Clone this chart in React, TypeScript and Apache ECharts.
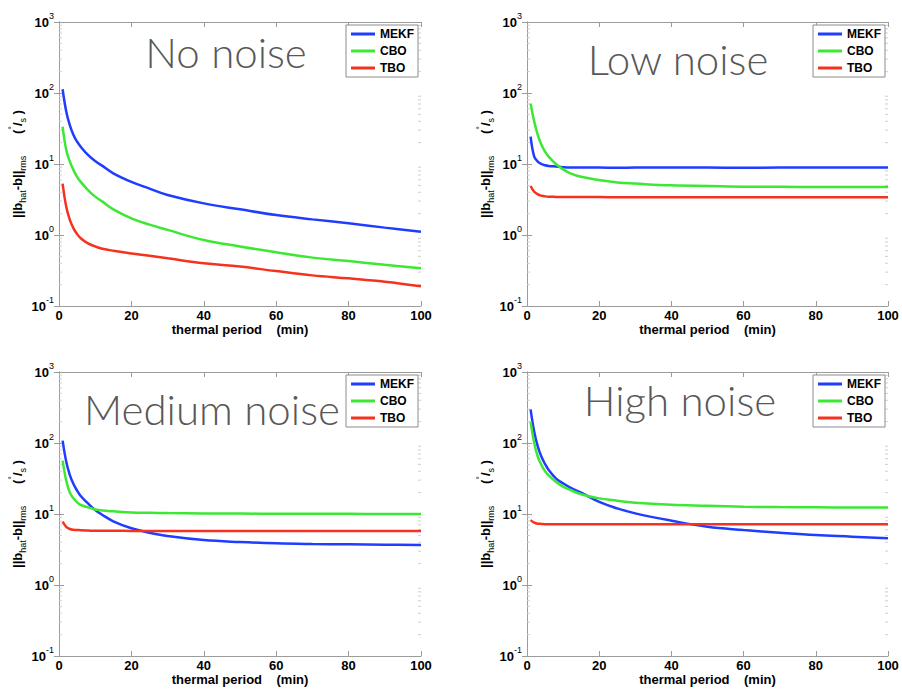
import React, { useEffect, useRef } from 'react';
import * as echarts from 'echarts';

// Thermal period (min) at which each estimator error is sampled
const PERIODS = [1, 2, 3, 4, 5, 6, 8, 10, 12, 15, 20, 25, 30, 40, 50, 60, 70, 80, 90, 100];

// RMS bias estimation error (deg/s) — no noise
const NO_NOISE_MEKF = [113, 55, 35, 25.7, 20.6, 17.5, 13.4, 11, 9.4, 7.4, 5.6, 4.5, 3.66, 2.79, 2.3, 1.91, 1.66, 1.46, 1.27, 1.11];
const NO_NOISE_CBO = [33.6, 15.7, 10.8, 8.2, 6.6, 5.6, 4.3, 3.47, 2.95, 2.3, 1.72, 1.4, 1.18, 0.85, 0.69, 0.57, 0.48, 0.43, 0.38, 0.34];
const NO_NOISE_TBO = [5.3, 2.5, 1.63, 1.24, 1.03, 0.9, 0.76, 0.69, 0.64, 0.6, 0.55, 0.51, 0.47, 0.4, 0.36, 0.31, 0.27, 0.245, 0.22, 0.19];

// Low noise
const LOW_NOISE_MEKF = [24.3, 12.7, 10.8, 10, 9.6, 9.4, 9.2, 9.0, 8.95, 8.9, 8.9, 8.88, 8.9, 8.92, 8.9, 8.88, 8.9, 8.9, 8.9, 8.9];
const LOW_NOISE_CBO = [71, 39.5, 25.6, 18.6, 14.9, 12.7, 10, 8.4, 7.4, 6.6, 5.95, 5.5, 5.3, 5.0, 4.9, 4.8, 4.78, 4.74, 4.74, 4.74];
const LOW_NOISE_TBO = [4.9, 4.07, 3.74, 3.58, 3.5, 3.46, 3.44, 3.43, 3.43, 3.42, 3.42, 3.41, 3.41, 3.4, 3.41, 3.4, 3.4, 3.39, 3.39, 3.39];

// Medium noise
const MEDIUM_NOISE_MEKF = [108, 54.6, 35.4, 26.4, 21.3, 17.9, 14.1, 11.4, 9.7, 7.9, 6.3, 5.46, 4.9, 4.3, 4.03, 3.86, 3.78, 3.74, 3.7, 3.66];
const MEDIUM_NOISE_CBO = [56.5, 29.5, 20, 16.6, 14.6, 13.4, 12.4, 11.6, 11.2, 10.9, 10.5, 10.4, 10.3, 10.2, 10.15, 10.1, 10.1, 10.05, 10.0, 10.0];
const MEDIUM_NOISE_TBO = [7.8, 6.6, 6.15, 6.0, 5.95, 5.9, 5.85, 5.8, 5.8, 5.8, 5.78, 5.78, 5.77, 5.77, 5.77, 5.76, 5.76, 5.76, 5.76, 5.76];

// High noise
const HIGH_NOISE_MEKF = [298, 144, 89, 64, 50.6, 41.7, 31.8, 27, 23.5, 20, 14.8, 12.0, 10.2, 8.05, 6.6, 5.95, 5.46, 5.06, 4.8, 4.54];
const HIGH_NOISE_CBO = [200, 99, 64, 49, 40, 35, 28.5, 24.3, 21.8, 19.0, 16.6, 15.4, 14.4, 13.5, 13.1, 12.7, 12.5, 12.4, 12.3, 12.3];
const HIGH_NOISE_TBO = [8.2, 7.55, 7.3, 7.25, 7.2, 7.2, 7.2, 7.2, 7.2, 7.2, 7.2, 7.2, 7.18, 7.18, 7.17, 7.17, 7.16, 7.16, 7.15, 7.15];

const METHODS = ['MEKF', 'CBO', 'TBO'];
const METHOD_COLORS = ['#1f3dff', '#3de834', '#f5321f'];
const PANEL_TITLES = ['No noise', 'Low noise', 'Medium noise', 'High noise'];
const PANEL_SERIES = [
  [NO_NOISE_MEKF, NO_NOISE_CBO, NO_NOISE_TBO],
  [LOW_NOISE_MEKF, LOW_NOISE_CBO, LOW_NOISE_TBO],
  [MEDIUM_NOISE_MEKF, MEDIUM_NOISE_CBO, MEDIUM_NOISE_TBO],
  [HIGH_NOISE_MEKF, HIGH_NOISE_CBO, HIGH_NOISE_TBO],
];

// Axis ranges
const X_MIN = 0;
const X_MAX = 100;
const X_STEP = 20;
const Y_MIN = 0.1;
const Y_MAX = 1000;
// Minor log ticks: multipliers within each decade
const MINOR_MULTIPLIERS = [2, 3, 4, 5, 6, 7, 8, 9];
const MINOR_DECADES = [0.1, 1, 10, 100];

// Layout of the four panels
const GRIDS = [
  { left: 59, top: 22, width: 362, height: 284 },
  { left: 527, top: 22, width: 361, height: 284 },
  { left: 59, top: 372, width: 362, height: 284 },
  { left: 527, top: 372, width: 361, height: 284 },
];
const TITLE_POS = [
  { x: 226, y: 52 },
  { x: 678, y: 59 },
  { x: 212, y: 409 },
  { x: 680, y: 400 },
];

const FONT = '"Liberation Sans", Arial, Helvetica, sans-serif';
const AXIS_COLOR = '#9c9c9c';

function buildOption() {
  const grid: any[] = [];
  const xAxis: any[] = [];
  const yAxis: any[] = [];
  const series: any[] = [];
  const legend: any[] = [];
  const graphic: any[] = [];

  const minorTicks: number[][] = [];
  MINOR_DECADES.forEach((d) => MINOR_MULTIPLIERS.forEach((m) => minorTicks.push([X_MIN, d * m])));

  GRIDS.forEach((g, i) => {
    grid.push({ ...g, containLabel: false });

    const baseAxisLine = { show: true, lineStyle: { color: AXIS_COLOR, width: 1 } };
    const baseTick = { show: true, inside: true, length: 5, lineStyle: { color: AXIS_COLOR, width: 1 } };

    xAxis.push({
      type: 'value',
      gridIndex: i,
      position: 'bottom',
      min: X_MIN,
      max: X_MAX,
      interval: X_STEP,
      axisLine: baseAxisLine,
      axisTick: baseTick,
      splitLine: { show: false },
      axisLabel: { fontFamily: FONT, fontWeight: 'bold', fontSize: 13, color: '#000', margin: 3 },
      name: 'thermal period    (min)',
      nameLocation: 'middle',
      nameGap: 17,
      nameTextStyle: { fontFamily: FONT, fontWeight: 'bold', fontSize: 13, color: '#000' },
    });
    xAxis.push({
      type: 'value',
      gridIndex: i,
      position: 'top',
      min: X_MIN,
      max: X_MAX,
      interval: X_STEP,
      axisLine: baseAxisLine,
      axisTick: baseTick,
      splitLine: { show: false },
      axisLabel: { show: false },
    });

    yAxis.push({
      type: 'log',
      logBase: 10,
      gridIndex: i,
      position: 'left',
      min: Y_MIN,
      max: Y_MAX,
      axisLine: baseAxisLine,
      axisTick: baseTick,
      splitLine: { show: false },
      axisLabel: {
        margin: 5,
        formatter: (v: number) => '{b|10}{e|' + Math.round(Math.log10(v)) + '}',
        rich: {
          b: { fontFamily: FONT, fontWeight: 'bold', fontSize: 13, color: '#000', lineHeight: 22, verticalAlign: 'middle' },
          e: { fontFamily: FONT, fontSize: 9, color: '#000', lineHeight: 9, verticalAlign: 'top' },
        },
      },
      name: '{m|||b}{s|hat}{m|-b||}{s|rms}{m|      (}{p|°}{m|/}{s|s}{m| )}',
      nameLocation: 'middle',
      nameRotate: 90,
      nameGap: 28,
      nameTextStyle: {
        rich: {
          m: { fontFamily: FONT, fontWeight: 'bold', fontSize: 13, color: '#000', lineHeight: 20, verticalAlign: 'middle' },
          s: { fontFamily: FONT, fontSize: 9, color: '#000', lineHeight: 9, verticalAlign: 'bottom' },
          p: { fontFamily: FONT, fontSize: 9, color: '#000', lineHeight: 9, verticalAlign: 'top' },
        },
      },
    });
    yAxis.push({
      type: 'log',
      logBase: 10,
      gridIndex: i,
      position: 'right',
      min: Y_MIN,
      max: Y_MAX,
      axisLine: baseAxisLine,
      axisTick: baseTick,
      splitLine: { show: false },
      axisLabel: { show: false },
    });

    // faint minor ticks on both vertical sides of the box
    series.push({
      type: 'custom',
      xAxisIndex: 2 * i,
      yAxisIndex: 2 * i,
      silent: true,
      clip: false,
      data: minorTicks,
      renderItem: (_p: any, api: any) => {
        const v = api.value(1);
        const l = api.coord([X_MIN, v]);
        const r = api.coord([X_MAX, v]);
        const st = { stroke: '#cfcfcf', lineWidth: 1 };
        return {
          type: 'group',
          children: [
            { type: 'line', shape: { x1: l[0], y1: l[1], x2: l[0] + 3, y2: l[1] }, style: st },
            { type: 'line', shape: { x1: r[0] - 3, y1: r[1], x2: r[0], y2: r[1] }, style: st },
          ],
        };
      },
    });

    PANEL_SERIES[i].forEach((vals, k) => {
      series.push({
        name: METHODS[k],
        type: 'line',
        xAxisIndex: 2 * i,
        yAxisIndex: 2 * i,
        showSymbol: false,
        symbol: 'none',
        smooth: 0.4,
        color: METHOD_COLORS[k],
        lineStyle: { width: 2.5, color: METHOD_COLORS[k] },
        data: PERIODS.map((p, j) => [p, vals[j]]),
      });
    });

    legend.push({
      orient: 'vertical',
      left: g.left + g.width - 75,
      top: g.top + 3,
      data: METHODS,
      icon: 'rect',
      itemWidth: 24,
      itemHeight: 3,
      itemGap: 3,
      padding: [2, 4, 2, 5],
      borderColor: '#8c8c8c',
      borderWidth: 1,
      backgroundColor: '#fff',
      textStyle: { fontFamily: FONT, fontWeight: 'bold', fontSize: 12, color: '#000', lineHeight: 14 },
    });

    graphic.push({
      type: 'text',
      x: TITLE_POS[i].x,
      y: TITLE_POS[i].y,
      silent: true,
      style: {
        text: PANEL_TITLES[i],
        fontFamily: 'Lato, "Open Sans", sans-serif',
        fontWeight: 300,
        fontSize: 42,
        fill: '#585858',
        textAlign: 'center',
        textVerticalAlign: 'middle',
      },
    });
  });

  return {
    animation: false,
    backgroundColor: '#ffffff',
    grid,
    xAxis,
    yAxis,
    legend,
    series,
    graphic,
  };
}

export default function App() {
  const ref = useRef<HTMLDivElement>(null);
  useEffect(() => {
    if (!ref.current) return;
    const chart = echarts.init(ref.current, undefined, { renderer: 'svg' });
    chart.setOption(buildOption() as any);
    return () => chart.dispose();
  }, []);
  return (
    <div
      ref={ref}
      style={{ position: 'fixed', left: 0, top: 0, width: 902, height: 689, background: '#fff' }}
    />
  );
}
